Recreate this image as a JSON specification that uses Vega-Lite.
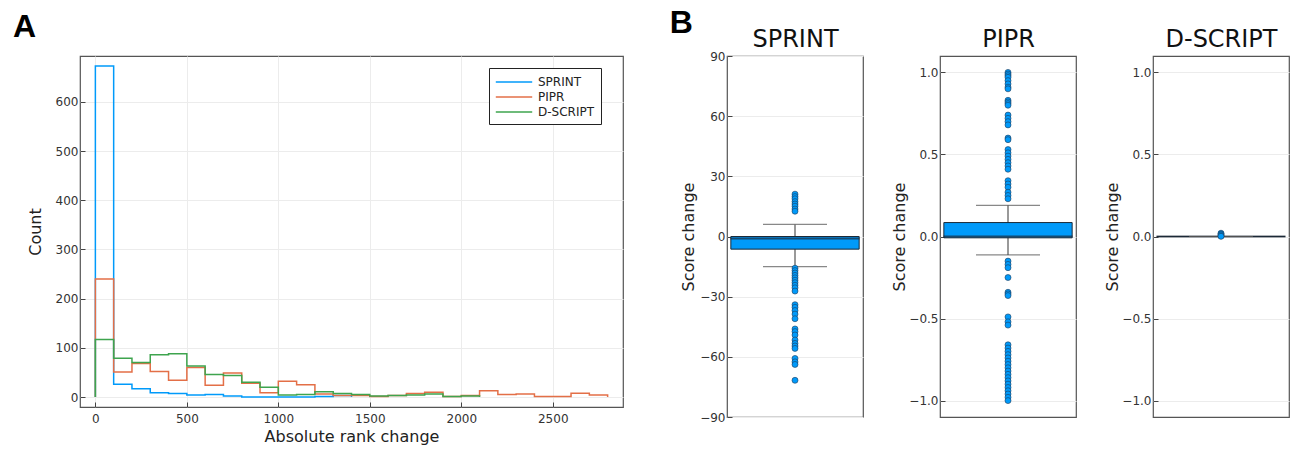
{
  "$schema": "https://vega.github.io/schema/vega-lite/v6.json",
  "padding": {"left": 12, "top": 6, "right": 2, "bottom": 0},
  "background": "white",
  "config": {
    "font": "DejaVu Sans",
    "view": {"stroke": "#555", "strokeWidth": 1.2},
    "axis": {"labelFont": "DejaVu Sans", "labelFontSize": 12, "labelColor": "#333", "titleFont": "DejaVu Sans", "titleFontSize": 16, "titleFontWeight": "normal", "titleColor": "#222", "gridColor": "#ececec", "gridWidth": 1, "domain": false, "tickColor": "#444", "tickSize": -5, "labelPadding": 7}
  },
  "datasets": {
    "hist": [
      {"m": "SPRINT", "i": 0, "x": 0, "c": 0}, {"m": "SPRINT", "i": 1, "x": 0, "c": 673}, {"m": "SPRINT", "i": 2, "x": 100, "c": 26}, {"m": "SPRINT", "i": 3, "x": 200, "c": 17}, {"m": "SPRINT", "i": 4, "x": 300, "c": 9}, {"m": "SPRINT", "i": 5, "x": 400, "c": 7}, {"m": "SPRINT", "i": 6, "x": 500, "c": 4}, {"m": "SPRINT", "i": 7, "x": 600, "c": 5}, {"m": "SPRINT", "i": 8, "x": 700, "c": 2}, {"m": "SPRINT", "i": 9, "x": 800, "c": 0}, {"m": "SPRINT", "i": 10, "x": 900, "c": 0}, {"m": "SPRINT", "i": 11, "x": 1000, "c": 0}, {"m": "SPRINT", "i": 12, "x": 1100, "c": 0}, {"m": "SPRINT", "i": 13, "x": 1200, "c": 1}, {"m": "SPRINT", "i": 14, "x": 1300, "c": 3}, {"m": "SPRINT", "i": 15, "x": 1400, "c": 3}, {"m": "SPRINT", "i": 16, "x": 1400, "c": 0},
      {"m": "PIPR", "i": 0, "x": 0, "c": 0}, {"m": "PIPR", "i": 1, "x": 0, "c": 240}, {"m": "PIPR", "i": 2, "x": 100, "c": 51}, {"m": "PIPR", "i": 3, "x": 200, "c": 68}, {"m": "PIPR", "i": 4, "x": 300, "c": 52}, {"m": "PIPR", "i": 5, "x": 400, "c": 34}, {"m": "PIPR", "i": 6, "x": 500, "c": 60}, {"m": "PIPR", "i": 7, "x": 600, "c": 24}, {"m": "PIPR", "i": 8, "x": 700, "c": 49}, {"m": "PIPR", "i": 9, "x": 800, "c": 28}, {"m": "PIPR", "i": 10, "x": 900, "c": 9}, {"m": "PIPR", "i": 11, "x": 1000, "c": 32}, {"m": "PIPR", "i": 12, "x": 1100, "c": 25}, {"m": "PIPR", "i": 13, "x": 1200, "c": 6}, {"m": "PIPR", "i": 14, "x": 1300, "c": 3}, {"m": "PIPR", "i": 15, "x": 1400, "c": 3}, {"m": "PIPR", "i": 16, "x": 1500, "c": 1}, {"m": "PIPR", "i": 17, "x": 1600, "c": 3}, {"m": "PIPR", "i": 18, "x": 1700, "c": 7}, {"m": "PIPR", "i": 19, "x": 1800, "c": 10}, {"m": "PIPR", "i": 20, "x": 1900, "c": 1}, {"m": "PIPR", "i": 21, "x": 2000, "c": 3}, {"m": "PIPR", "i": 22, "x": 2100, "c": 13}, {"m": "PIPR", "i": 23, "x": 2200, "c": 5}, {"m": "PIPR", "i": 24, "x": 2300, "c": 6}, {"m": "PIPR", "i": 25, "x": 2400, "c": 1}, {"m": "PIPR", "i": 26, "x": 2500, "c": 1}, {"m": "PIPR", "i": 27, "x": 2600, "c": 8}, {"m": "PIPR", "i": 28, "x": 2700, "c": 4}, {"m": "PIPR", "i": 29, "x": 2800, "c": 4}, {"m": "PIPR", "i": 30, "x": 2800, "c": 0},
      {"m": "D-SCRIPT", "i": 0, "x": 0, "c": 0}, {"m": "D-SCRIPT", "i": 1, "x": 0, "c": 117}, {"m": "D-SCRIPT", "i": 2, "x": 100, "c": 79}, {"m": "D-SCRIPT", "i": 3, "x": 200, "c": 70}, {"m": "D-SCRIPT", "i": 4, "x": 300, "c": 86}, {"m": "D-SCRIPT", "i": 5, "x": 400, "c": 88}, {"m": "D-SCRIPT", "i": 6, "x": 500, "c": 63}, {"m": "D-SCRIPT", "i": 7, "x": 600, "c": 46}, {"m": "D-SCRIPT", "i": 8, "x": 700, "c": 44}, {"m": "D-SCRIPT", "i": 9, "x": 800, "c": 30}, {"m": "D-SCRIPT", "i": 10, "x": 900, "c": 20}, {"m": "D-SCRIPT", "i": 11, "x": 1000, "c": 4}, {"m": "D-SCRIPT", "i": 12, "x": 1100, "c": 5}, {"m": "D-SCRIPT", "i": 13, "x": 1200, "c": 11}, {"m": "D-SCRIPT", "i": 14, "x": 1300, "c": 7}, {"m": "D-SCRIPT", "i": 15, "x": 1400, "c": 5}, {"m": "D-SCRIPT", "i": 16, "x": 1500, "c": 2}, {"m": "D-SCRIPT", "i": 17, "x": 1600, "c": 3}, {"m": "D-SCRIPT", "i": 18, "x": 1700, "c": 4}, {"m": "D-SCRIPT", "i": 19, "x": 1800, "c": 6}, {"m": "D-SCRIPT", "i": 20, "x": 1900, "c": 1}, {"m": "D-SCRIPT", "i": 21, "x": 2000, "c": 2}, {"m": "D-SCRIPT", "i": 22, "x": 2100, "c": 2}, {"m": "D-SCRIPT", "i": 23, "x": 2100, "c": 0}
    ],
    "boxes": [
      {"m": "SPRINT", "lo": -15, "q1": -6.3, "med": -1, "q3": 0, "hi": 6},
      {"m": "PIPR", "lo": -0.112, "q1": -0.008, "med": 0, "q3": 0.085, "hi": 0.19},
      {"m": "D-SCRIPT", "lo": 0, "q1": 0, "med": 0, "q3": 0, "hi": 0}
    ],
    "outliers": [
      {"m": "SPRINT", "v": 21.1}, {"m": "SPRINT", "v": 19.9}, {"m": "SPRINT", "v": 18.8}, {"m": "SPRINT", "v": 17.4}, {"m": "SPRINT", "v": 16.2}, {"m": "SPRINT", "v": 15.1}, {"m": "SPRINT", "v": 13.7}, {"m": "SPRINT", "v": 12.6},
      {"m": "SPRINT", "v": -15.8}, {"m": "SPRINT", "v": -17}, {"m": "SPRINT", "v": -18.2}, {"m": "SPRINT", "v": -19.4}, {"m": "SPRINT", "v": -20.6}, {"m": "SPRINT", "v": -21.8}, {"m": "SPRINT", "v": -23}, {"m": "SPRINT", "v": -24.3}, {"m": "SPRINT", "v": -25.6}, {"m": "SPRINT", "v": -27.2},
      {"m": "SPRINT", "v": -34}, {"m": "SPRINT", "v": -35.3}, {"m": "SPRINT", "v": -36.9}, {"m": "SPRINT", "v": -38.7}, {"m": "SPRINT", "v": -41}, {"m": "SPRINT", "v": -46.1}, {"m": "SPRINT", "v": -47.4}, {"m": "SPRINT", "v": -49.1}, {"m": "SPRINT", "v": -51.6}, {"m": "SPRINT", "v": -53.3}, {"m": "SPRINT", "v": -54.6}, {"m": "SPRINT", "v": -55.8}, {"m": "SPRINT", "v": -60.8}, {"m": "SPRINT", "v": -62.5}, {"m": "SPRINT", "v": -63.8}, {"m": "SPRINT", "v": -71.7},
      {"m": "PIPR", "v": 1.0}, {"m": "PIPR", "v": 0.99}, {"m": "PIPR", "v": 0.98}, {"m": "PIPR", "v": 0.97}, {"m": "PIPR", "v": 0.95}, {"m": "PIPR", "v": 0.93}, {"m": "PIPR", "v": 0.91}, {"m": "PIPR", "v": 0.9}, {"m": "PIPR", "v": 0.83}, {"m": "PIPR", "v": 0.82}, {"m": "PIPR", "v": 0.81}, {"m": "PIPR", "v": 0.8}, {"m": "PIPR", "v": 0.74}, {"m": "PIPR", "v": 0.72}, {"m": "PIPR", "v": 0.7}, {"m": "PIPR", "v": 0.68}, {"m": "PIPR", "v": 0.6}, {"m": "PIPR", "v": 0.59}, {"m": "PIPR", "v": 0.53}, {"m": "PIPR", "v": 0.51}, {"m": "PIPR", "v": 0.49}, {"m": "PIPR", "v": 0.47}, {"m": "PIPR", "v": 0.45}, {"m": "PIPR", "v": 0.43}, {"m": "PIPR", "v": 0.41}, {"m": "PIPR", "v": 0.34}, {"m": "PIPR", "v": 0.32}, {"m": "PIPR", "v": 0.3}, {"m": "PIPR", "v": 0.27}, {"m": "PIPR", "v": 0.25}, {"m": "PIPR", "v": 0.23},
      {"m": "PIPR", "v": -0.15}, {"m": "PIPR", "v": -0.17}, {"m": "PIPR", "v": -0.19}, {"m": "PIPR", "v": -0.25}, {"m": "PIPR", "v": -0.34}, {"m": "PIPR", "v": -0.35}, {"m": "PIPR", "v": -0.36}, {"m": "PIPR", "v": -0.49}, {"m": "PIPR", "v": -0.52}, {"m": "PIPR", "v": -0.54}, {"m": "PIPR", "v": -0.66}, {"m": "PIPR", "v": -0.68}, {"m": "PIPR", "v": -0.7}, {"m": "PIPR", "v": -0.72}, {"m": "PIPR", "v": -0.74}, {"m": "PIPR", "v": -0.76}, {"m": "PIPR", "v": -0.78}, {"m": "PIPR", "v": -0.8}, {"m": "PIPR", "v": -0.82}, {"m": "PIPR", "v": -0.84}, {"m": "PIPR", "v": -0.86}, {"m": "PIPR", "v": -0.88}, {"m": "PIPR", "v": -0.9}, {"m": "PIPR", "v": -0.92}, {"m": "PIPR", "v": -0.94}, {"m": "PIPR", "v": -0.96}, {"m": "PIPR", "v": -0.98}, {"m": "PIPR", "v": -1.0},
      {"m": "D-SCRIPT", "v": 0.02}, {"m": "D-SCRIPT", "v": 0.015}, {"m": "D-SCRIPT", "v": 0.01}, {"m": "D-SCRIPT", "v": 0.004}, {"m": "D-SCRIPT", "v": 0.001}
    ]
  },
  "spacing": 45,
  "hconcat": [
    {
      "title": {"text": "A", "anchor": "start", "frame": "bounds", "font": "Liberation Sans", "fontSize": 32, "fontWeight": "bold", "color": "#000", "baseline": "alphabetic", "offset": 16, "dx": -14, "dy": 29},
      "width": 543,
      "height": 351,
      "data": {"name": "hist"},
      "mark": {"type": "line", "interpolate": "step-after", "strokeWidth": 1.5},
      "encoding": {
        "x": {"field": "x", "type": "quantitative", "scale": {"domain": [-84, 2884], "nice": false, "zero": false}, "axis": {"title": "Absolute rank change", "values": [0, 500, 1000, 1500, 2000, 2500], "format": "d", "labelPadding": 11, "titlePadding": 4}},
        "y": {"field": "c", "type": "quantitative", "scale": {"domain": [-20.2, 693.2], "nice": false, "zero": false}, "axis": {"title": "Count", "values": [0, 100, 200, 300, 400, 500, 600], "titlePadding": 12}},
        "color": {"field": "m", "type": "nominal", "scale": {"domain": ["SPRINT", "PIPR", "D-SCRIPT"], "range": ["#009AFA", "#E36F47", "#3EA44E"]}, "legend": {"title": null, "orient": "none", "legendX": 409, "legendY": 12, "fillColor": "white", "strokeColor": "#222", "padding": 6, "symbolType": "M-2.6,0H2.6", "symbolSize": 196, "symbolOffset": 11, "symbolFillColor": "transparent", "symbolStrokeWidth": 1.5, "labelFontSize": 12, "labelColor": "#222", "rowPadding": 1, "labelOffset": 16}},
        "order": {"field": "i", "type": "quantitative"}
      }
    },
    {
      "spacing": 27,
      "hconcat": [
        {
          "title": {"text": "B", "anchor": "start", "frame": "bounds", "font": "Liberation Sans", "fontSize": 32, "fontWeight": "bold", "color": "#000", "baseline": "alphabetic", "offset": -8, "dx": -11, "dy": 30},
          "width": 136,
          "height": 361,
          "encoding": {"x": {"field": "m", "type": "nominal", "scale": {"paddingInner": 0, "paddingOuter": 0.03}, "axis": {"orient": "top", "title": "SPRINT", "labels": false, "ticks": false, "domain": false, "grid": false, "titleFontSize": 24, "titlePadding": 5, "titleColor": "#111"}}},
          "layer": [
            {"data": {"name": "boxes"}, "transform": [{"filter": "datum.m === 'SPRINT'"}], "mark": {"type": "rule", "color": "#555", "strokeWidth": 1.2}, "encoding": {"y": {"field": "lo", "type": "quantitative", "title": "Score change", "scale": {"domain": [-90, 90], "nice": false, "zero": false}, "axis": {"values": [-90, -60, -30, 0, 30, 60, 90], "titlePadding": 3}}, "y2": {"field": "hi"}}},
            {"data": {"name": "boxes"}, "transform": [{"filter": "datum.m === 'SPRINT'"}], "mark": {"type": "bar", "fill": "#009AFA", "stroke": "#1c2a38", "strokeWidth": 1}, "encoding": {"y": {"field": "q1", "type": "quantitative", "title": "Score change"}, "y2": {"field": "q3"}}},
            {"data": {"name": "boxes"}, "transform": [{"filter": "datum.m === 'SPRINT'"}], "mark": {"type": "tick", "color": "#1c2a38", "thickness": 2, "size": 129}, "encoding": {"y": {"field": "med", "type": "quantitative", "title": "Score change"}}},
            {"data": {"name": "boxes"}, "transform": [{"filter": "datum.m === 'SPRINT'"}], "mark": {"type": "tick", "color": "#555", "thickness": 1.2, "size": 64}, "encoding": {"y": {"field": "hi", "type": "quantitative", "title": "Score change"}}},
            {"data": {"name": "boxes"}, "transform": [{"filter": "datum.m === 'SPRINT'"}], "mark": {"type": "tick", "color": "#555", "thickness": 1.2, "size": 64}, "encoding": {"y": {"field": "lo", "type": "quantitative", "title": "Score change"}}},
            {"data": {"name": "outliers"}, "transform": [{"filter": "datum.m === 'SPRINT'"}], "mark": {"type": "circle", "size": 36, "fill": "#009AFA", "stroke": "#1c3a5a", "strokeWidth": 0.6, "opacity": 1}, "encoding": {"y": {"field": "v", "type": "quantitative", "title": "Score change"}}}
          ]
        },
        {
          "width": 136,
          "height": 361,
          "encoding": {"x": {"field": "m", "type": "nominal", "scale": {"paddingInner": 0, "paddingOuter": 0.03}, "axis": {"orient": "top", "title": "PIPR", "labels": false, "ticks": false, "domain": false, "grid": false, "titleFontSize": 24, "titlePadding": 5, "titleColor": "#111"}}},
          "layer": [
            {"data": {"name": "boxes"}, "transform": [{"filter": "datum.m === 'PIPR'"}], "mark": {"type": "rule", "color": "#555", "strokeWidth": 1.2}, "encoding": {"y": {"field": "lo", "type": "quantitative", "title": "Score change", "scale": {"domain": [-1.1, 1.1], "nice": false, "zero": false}, "axis": {"values": [-1, -0.5, 0, 0.5, 1], "format": ".1f", "titlePadding": 1}}, "y2": {"field": "hi"}}},
            {"data": {"name": "boxes"}, "transform": [{"filter": "datum.m === 'PIPR'"}], "mark": {"type": "bar", "fill": "#009AFA", "stroke": "#1c2a38", "strokeWidth": 1}, "encoding": {"y": {"field": "q1", "type": "quantitative", "title": "Score change"}, "y2": {"field": "q3"}}},
            {"data": {"name": "boxes"}, "transform": [{"filter": "datum.m === 'PIPR'"}], "mark": {"type": "tick", "color": "#1c2a38", "thickness": 2, "size": 129}, "encoding": {"y": {"field": "med", "type": "quantitative", "title": "Score change"}}},
            {"data": {"name": "boxes"}, "transform": [{"filter": "datum.m === 'PIPR'"}], "mark": {"type": "tick", "color": "#555", "thickness": 1.2, "size": 64}, "encoding": {"y": {"field": "hi", "type": "quantitative", "title": "Score change"}}},
            {"data": {"name": "boxes"}, "transform": [{"filter": "datum.m === 'PIPR'"}], "mark": {"type": "tick", "color": "#555", "thickness": 1.2, "size": 64}, "encoding": {"y": {"field": "lo", "type": "quantitative", "title": "Score change"}}},
            {"data": {"name": "outliers"}, "transform": [{"filter": "datum.m === 'PIPR'"}], "mark": {"type": "circle", "size": 36, "fill": "#009AFA", "stroke": "#1c3a5a", "strokeWidth": 0.6, "opacity": 1}, "encoding": {"y": {"field": "v", "type": "quantitative", "title": "Score change"}}}
          ]
        },
        {
          "width": 136,
          "height": 361,
          "encoding": {"x": {"field": "m", "type": "nominal", "scale": {"paddingInner": 0, "paddingOuter": 0.03}, "axis": {"orient": "top", "title": "D-SCRIPT", "labels": false, "ticks": false, "domain": false, "grid": false, "titleFontSize": 24, "titlePadding": 5, "titleColor": "#111"}}},
          "layer": [
            {"data": {"name": "boxes"}, "transform": [{"filter": "datum.m === 'D-SCRIPT'"}], "mark": {"type": "rule", "color": "#555", "strokeWidth": 1.2}, "encoding": {"y": {"field": "lo", "type": "quantitative", "title": "Score change", "scale": {"domain": [-1.1, 1.1], "nice": false, "zero": false}, "axis": {"values": [-1, -0.5, 0, 0.5, 1], "format": ".1f", "titlePadding": 1}}, "y2": {"field": "hi"}}},
            {"data": {"name": "boxes"}, "transform": [{"filter": "datum.m === 'D-SCRIPT'"}], "mark": {"type": "bar", "fill": "#009AFA", "stroke": "#1c2a38", "strokeWidth": 1}, "encoding": {"y": {"field": "q1", "type": "quantitative", "title": "Score change"}, "y2": {"field": "q3"}}},
            {"data": {"name": "boxes"}, "transform": [{"filter": "datum.m === 'D-SCRIPT'"}], "mark": {"type": "tick", "color": "#1c2a38", "thickness": 2, "size": 129}, "encoding": {"y": {"field": "med", "type": "quantitative", "title": "Score change"}}},
            {"data": {"name": "boxes"}, "transform": [{"filter": "datum.m === 'D-SCRIPT'"}], "mark": {"type": "tick", "color": "#555", "thickness": 1.2, "size": 64}, "encoding": {"y": {"field": "hi", "type": "quantitative", "title": "Score change"}}},
            {"data": {"name": "boxes"}, "transform": [{"filter": "datum.m === 'D-SCRIPT'"}], "mark": {"type": "tick", "color": "#555", "thickness": 1.2, "size": 64}, "encoding": {"y": {"field": "lo", "type": "quantitative", "title": "Score change"}}},
            {"data": {"name": "outliers"}, "transform": [{"filter": "datum.m === 'D-SCRIPT'"}], "mark": {"type": "circle", "size": 36, "fill": "#009AFA", "stroke": "#1c3a5a", "strokeWidth": 0.6, "opacity": 1}, "encoding": {"y": {"field": "v", "type": "quantitative", "title": "Score change"}}}
          ]
        }
      ]
    }
  ]
}
